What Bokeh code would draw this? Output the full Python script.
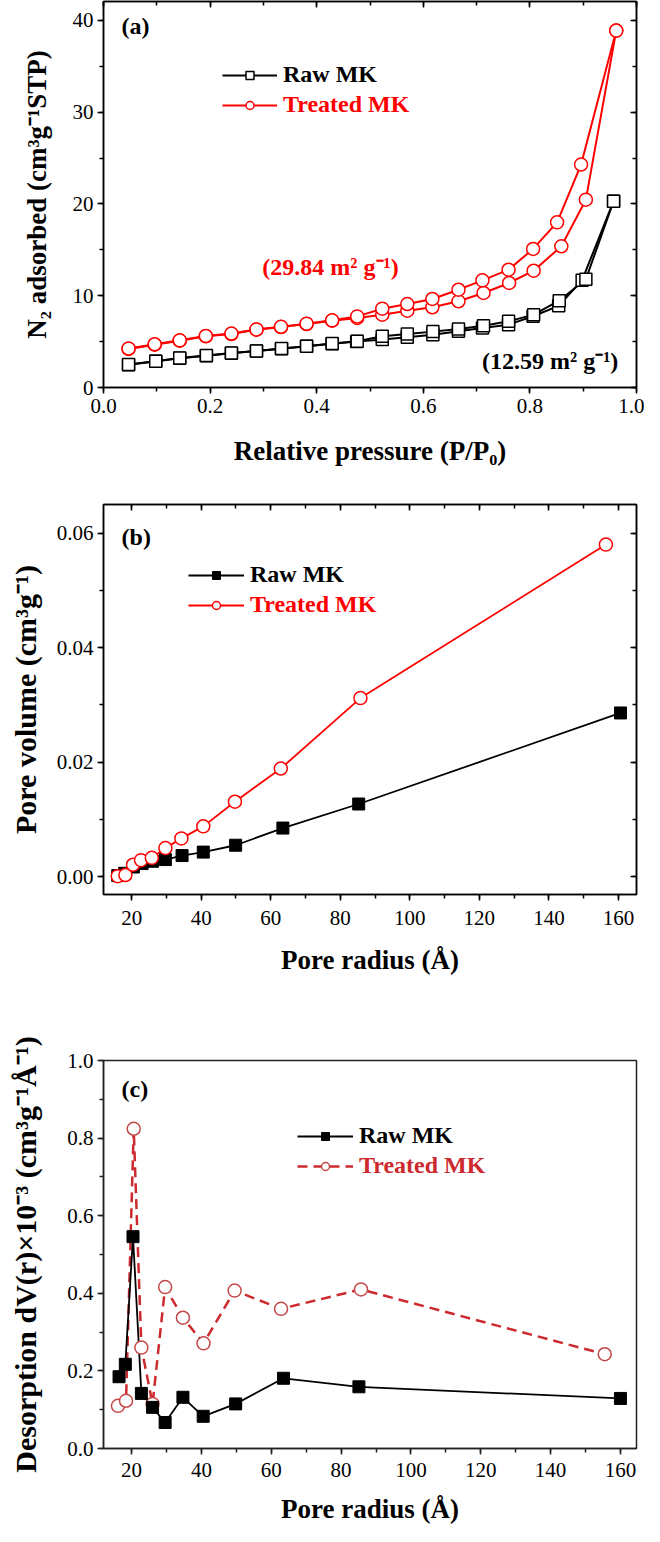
from bokeh.plotting import figure
from bokeh.models import (Range1d, SingleIntervalTicker, PrintfTickFormatter, LinearAxis,
                          Legend, LegendItem, Label)
from bokeh.layouts import column
from bokeh.embed import file_html
from bokeh.resources import INLINE

FONT = "Liberation Serif"
W = 644

# ---------------- data: (a) N2 isotherms ----------------
p_raw_ads = [0.047, 0.098, 0.143, 0.193, 0.240, 0.287, 0.334, 0.381, 0.429, 0.475,
             0.523, 0.570, 0.618, 0.666, 0.711, 0.760, 0.806, 0.854, 0.898, 0.957]
v_raw_ads = [2.49, 2.85, 3.20, 3.47, 3.74, 3.97, 4.23, 4.49, 4.76, 5.00,
             5.22, 5.47, 5.76, 6.12, 6.49, 6.85, 7.76, 8.90, 11.70, 20.30]
p_raw_des = [0.957, 0.905, 0.855, 0.807, 0.760, 0.713, 0.666, 0.618, 0.570, 0.523,
             0.476, 0.429, 0.381, 0.334, 0.287, 0.240, 0.193, 0.143, 0.098, 0.047]
v_raw_des = [20.30, 11.80, 9.46, 7.94, 7.21, 6.74, 6.38, 6.09, 5.83, 5.58,
             5.05, 4.80, 4.50, 4.25, 3.99, 3.76, 3.49, 3.22, 2.87, 2.50]
p_trt_ads = [0.047, 0.096, 0.143, 0.192, 0.240, 0.287, 0.333, 0.381, 0.429, 0.476,
             0.523, 0.570, 0.617, 0.666, 0.713, 0.761, 0.807, 0.859, 0.905, 0.962]
v_trt_ads = [4.20, 4.67, 5.10, 5.58, 5.83, 6.30, 6.59, 6.92, 7.28, 7.58,
             7.94, 8.37, 8.74, 9.40, 10.30, 11.39, 12.73, 15.39, 20.47, 38.90]
p_trt_des = [0.962, 0.896, 0.851, 0.806, 0.760, 0.711, 0.666, 0.617, 0.570, 0.523,
             0.476, 0.429, 0.381, 0.333, 0.287, 0.240, 0.192, 0.143, 0.096, 0.047]
v_trt_des = [38.90, 24.30, 18.00, 15.10, 12.84, 11.68, 10.66, 9.65, 9.10, 8.59,
             7.75, 7.32, 6.96, 6.62, 6.33, 5.88, 5.62, 5.14, 4.72, 4.25]

# ---------------- data: (b) cumulative pore volume ----------------
r_raw_b = [16.0, 18.0, 20.5, 23.0, 26.0, 29.7, 34.5, 40.6, 49.9, 63.5, 85.3, 160.6]
pv_raw = [0.0002, 0.0006, 0.0017, 0.0023, 0.0027, 0.0030, 0.0037, 0.0043, 0.0055,
          0.0085, 0.0127, 0.0286]
r_trt_b = [16.0, 18.2, 20.4, 22.7, 25.8, 29.7, 34.3, 40.6, 49.7, 62.9, 85.8, 156.4]
pv_trt = [0.0001, 0.0003, 0.0021, 0.0029, 0.0033, 0.0050, 0.0067, 0.0088, 0.0131,
          0.0189, 0.0312, 0.0580]

# ---------------- data: (c) pore size distribution ----------------
r_raw_c = [16.4, 18.2, 20.4, 22.8, 26.0, 29.6, 34.7, 40.5, 49.8, 63.5, 85.1, 160.0]
dv_raw = [0.185, 0.217, 0.546, 0.142, 0.106, 0.067, 0.132, 0.083, 0.115, 0.181, 0.159, 0.129]
r_trt_c = [16.1, 18.4, 20.6, 22.8, 26.0, 29.6, 34.7, 40.6, 49.5, 62.8, 85.7, 155.5]
dv_trt = [0.110, 0.123, 0.824, 0.260, 0.115, 0.416, 0.337, 0.271, 0.407, 0.360, 0.410, 0.243]

LBL_RAW = "Raw MK"
LBL_TRT = "Treated MK"


def make_fig(height, xr, yr, left, right, top, bottom, line_color="black"):
    p = figure(width=W, height=height, x_range=Range1d(*xr), y_range=Range1d(*yr),
               output_backend="svg", toolbar_location=None,
               min_border_left=left, min_border_right=right,
               min_border_top=top, min_border_bottom=bottom)
    p.xgrid.visible = False
    p.ygrid.visible = False
    p.outline_line_color = line_color
    p.outline_line_width = 1.5
    p.outline_line_alpha = 1.0
    return p


def style_axis(ax, interval, fmt, label, label_size, lab_standoff, title_standoff, color="black"):
    ax.ticker = SingleIntervalTicker(interval=interval, num_minor_ticks=2)
    ax.formatter = PrintfTickFormatter(format=fmt)
    ax.axis_label = label
    ax.axis_label_text_font = FONT
    ax.axis_label_text_font_style = "bold"
    ax.axis_label_text_font_size = f"{label_size}px"
    ax.axis_label_text_color = "black"
    ax.axis_label_standoff = title_standoff
    ax.major_label_text_font = FONT
    ax.major_label_text_font_size = "21px"
    ax.major_label_text_color = "black"
    ax.major_label_standoff = lab_standoff
    ax.major_tick_out = 6
    ax.major_tick_in = 0
    ax.minor_tick_out = 4
    ax.minor_tick_in = 0
    ax.axis_line_width = 1.5
    ax.axis_line_color = color
    ax.major_tick_line_width = 1.5
    ax.minor_tick_line_width = 1.5
    ax.major_tick_line_color = color
    ax.minor_tick_line_color = color


def mirror(p, xint, yint):
    for loc, interval in (("above", xint), ("right", yint)):
        ax = LinearAxis(ticker=SingleIntervalTicker(interval=interval, num_minor_ticks=2),
                        major_label_text_font_size="0px", major_label_text_color=None,
                        major_label_standoff=0,
                        major_tick_in=6, major_tick_out=0, minor_tick_in=4, minor_tick_out=0,
                        axis_line_width=1.5, major_tick_line_width=1.5, minor_tick_line_width=1.5)
        p.add_layout(ax, loc)


def add_legend(p, renderers, text, color, x, y, glyph_w):
    leg = Legend(items=[LegendItem(label=text, renderers=renderers)], location=(x, y),
                 label_text_font=FONT, label_text_font_style="bold",
                 label_text_font_size="24px", label_text_color=color,
                 glyph_width=glyph_w, glyph_height=20, label_height=20,
                 label_standoff=6, padding=0, margin=0, spacing=0,
                 background_fill_alpha=0, border_line_alpha=0)
    p.add_layout(leg, "center")


def add_text(p, x, y, text, color="black", size=24, align="left"):
    p.add_layout(Label(x=x, y=y, text=text, text_font=FONT, text_font_style="bold",
                       text_font_size=f"{size}px", text_color=color,
                       text_align=align, text_baseline="middle"))


RED = "#ff0000"

# ---------------- panel (a) ----------------
pa = make_fig(482, (0.0, 1.0), (0.0, 42.07), 103, 8, 1, 95)
style_axis(pa.xaxis[0], 0.2, "%.1f", "Relative pressure (P/P\u2080)", 27, 5, 20)
style_axis(pa.yaxis[0], 10, "%d", "N\u2082 adsorbed (cm\u00b3g\u207b\u00b9STP)", 27, 4, 18)
mirror(pa, 0.2, 10)

la1 = pa.line(p_raw_ads, v_raw_ads, line_color="black", line_width=2)
pa.line(p_raw_des, v_raw_des, line_color="black", line_width=2)
lb1 = pa.line(p_trt_ads, v_trt_ads, line_color=RED, line_width=2)
pa.line(p_trt_des, v_trt_des, line_color=RED, line_width=2)
sa1 = pa.scatter(p_raw_ads, v_raw_ads, marker="square", size=12, line_color="black",
                 fill_color="white", line_width=1.5)
pa.scatter(p_raw_des, v_raw_des, marker="square", size=12, line_color="black",
           fill_color="white", line_width=1.5)
sb1 = pa.scatter(p_trt_ads, v_trt_ads, marker="circle", size=13, line_color=RED,
                 fill_color="white", line_width=1.5)
pa.scatter(p_trt_des, v_trt_des, marker="circle", size=13, line_color=RED,
           fill_color="white", line_width=1.5)
add_legend(pa, [la1, sa1], LBL_RAW, "black", 119, 299, 55)
add_legend(pa, [lb1, sb1], LBL_TRT, RED, 119, 269, 55)
add_text(pa, 0.034, 39.45, "(a)")
add_text(pa, 0.426, 13.08, "(29.84 m\u00b2 g\u207b\u00b9)", RED, 24, "center")
add_text(pa, 0.838, 2.94, "(12.59 m\u00b2 g\u207b\u00b9)", "black", 24, "center")

# ---------------- panel (b) ----------------
pb = make_fig(510, (11.9, 165.2), (-0.0031, 0.0650), 103, 8, 22, 98)
style_axis(pb.xaxis[0], 20, "%d", "Pore radius (\u00c5)", 27, 10, 17)
style_axis(pb.yaxis[0], 0.02, "%.2f", "Pore volume (cm\u00b3g\u207b\u00b9)", 30, 4, 12)
mirror(pb, 20, 0.02)

lr = pb.line(r_raw_b, pv_raw, line_color="black", line_width=1.8)
lt = pb.line(r_trt_b, pv_trt, line_color=RED, line_width=1.8)
sr = pb.scatter(r_raw_b, pv_raw, marker="square", size=12, line_color="black",
                fill_color="black")
st = pb.scatter(r_trt_b, pv_trt, marker="circle", size=13, line_color=RED,
                fill_color="white", line_width=1.5)
add_legend(pb, [lr, sr], LBL_RAW, "black", 85, 306, 56)
add_legend(pb, [lt, st], LBL_TRT, RED, 85, 276, 56)
add_text(pb, 17.1, 0.0593, "(b)")

# ---------------- panel (c) ----------------
DARK = "#222222"
CRED = "#cc2a2e"
CCIRC = "#c44848"
pc = make_fig(534, (11.95, 164.6), (0.0, 1.0), 101, 8, 68, 76, DARK)
style_axis(pc.xaxis[0], 20, "%d", "Pore radius (\u00c5)", 27, 8, 14, DARK)
style_axis(pc.yaxis[0], 0.2, "%.1f",
           "Desorption dV(r)\u00d710\u207b\u00b3 (cm\u00b3g\u207b\u00b9\u00c5\u207b\u00b9)", 30, 4, 22, DARK)

lt_c = pc.line(r_trt_c, dv_trt, line_color=CRED, line_width=2.5, line_dash="10 6")
lr_c = pc.line(r_raw_c, dv_raw, line_color="black", line_width=1.8)
st_c = pc.scatter(r_trt_c, dv_trt, marker="circle", size=13, line_color=CCIRC,
                  fill_color="white", line_width=1.5)
sr_c = pc.scatter(r_raw_c, dv_raw, marker="square", size=12, line_color="black",
                  fill_color="black")
add_legend(pc, [lr_c, sr_c], LBL_RAW, "black", 194, 299, 56)
add_legend(pc, [lt_c, st_c], LBL_TRT, CRED, 194, 269, 56)
add_text(pc, 17.1, 0.926, "(c)")

layout = column(pa, pb, pc)
open("out.html", "w").write(file_html(layout, INLINE))
